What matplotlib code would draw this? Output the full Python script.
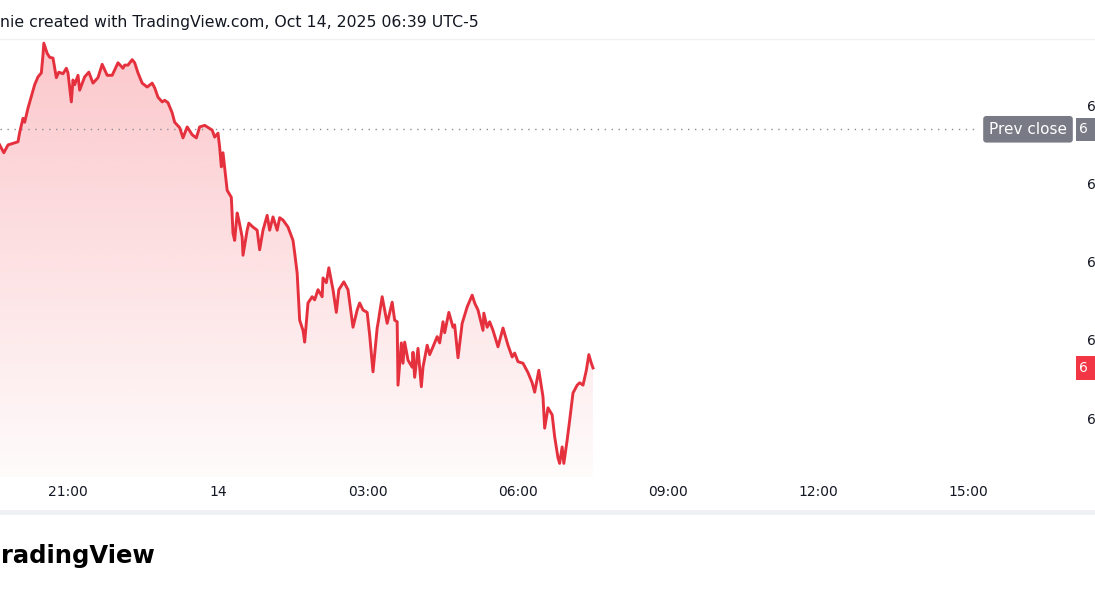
import numpy as np
import matplotlib
matplotlib.use("Agg")
import matplotlib.pyplot as plt
import matplotlib.transforms as mtransforms
from matplotlib.colors import to_rgb
from matplotlib.patches import Rectangle
from matplotlib.lines import Line2D

# ---------------- data (minutes relative to Oct 14 00:00, price) ----------------
minutes = [
    -262, -257, -252, -246, -240, -238, -234, -232, -228, -223, -220, -216, -212, -210, -209,
    -205, -202, -198, -194, -191, -186, -182, -180, -176, -174, -172, -168, -166, -160, -155,
    -150, -144, -139, -133, -127, -124, -120, -114, -112, -108, -103, -100, -96, -91, -85,
    -79, -76, -72, -67, -64, -60, -55, -52, -46, -42, -37, -31, -26, -22, -16,
    -7, -4, 0, 2, 4, 6, 11, 16, 18, 20, 23, 25, 29, 30, 35,
    37, 42, 47, 50, 54, 59, 62, 66, 71, 74, 78, 84, 90, 92, 95,
    98, 102, 104, 108, 113, 116, 120, 125, 126, 130, 133, 138, 142, 145, 151,
    156, 162, 167, 170, 174, 179, 182, 186, 191, 192, 197, 203, 209, 212, 215,
    216, 220, 222, 224, 228, 233, 234, 236, 240, 244, 246, 251, 254, 258, 263,
    266, 270, 272, 277, 282, 284, 288, 293, 299, 305, 308, 312, 318, 319, 323,
    326, 330, 336, 342, 348, 353, 356, 360, 366, 372, 377, 380, 385, 390, 392,
    396, 401, 404, 408, 410, 413, 415, 419, 422, 426, 431, 434, 438, 442, 445,
    448, 450,
]
prices = [
    6694.9, 6693.9, 6694.9, 6695.1, 6695.3, 6696.5, 6698.3, 6697.8, 6699.6, 6701.5, 6702.6, 6703.6, 6704.1, 6706.4, 6707.9,
    6706.6, 6706.1, 6706.0, 6703.5, 6704.2, 6704.0, 6704.7, 6704.1, 6700.4, 6703.2, 6702.6, 6703.8, 6701.9, 6703.6, 6704.2,
    6702.8, 6703.5, 6705.2, 6703.8, 6703.8, 6704.5, 6705.4, 6704.7, 6705.1, 6705.1, 6705.8, 6705.4, 6704.1, 6702.8, 6702.3,
    6702.8, 6702.2, 6701.0, 6700.4, 6700.6, 6700.3, 6699.0, 6697.8, 6697.1, 6695.8, 6697.2, 6696.2, 6695.8, 6697.2, 6697.4,
    6696.8, 6695.9, 6696.4, 6694.6, 6692.1, 6693.9, 6689.1, 6688.2, 6683.6, 6682.7, 6686.2, 6685.3, 6683.1, 6680.8, 6684.0,
    6684.9, 6684.4, 6684.0, 6681.5, 6684.0, 6685.9, 6684.0, 6685.7, 6684.0, 6685.6, 6685.3, 6684.4, 6682.7, 6681.1, 6678.5,
    6672.5, 6671.2, 6669.7, 6674.7, 6675.5, 6675.1, 6676.4, 6675.5, 6677.9, 6677.3, 6679.2, 6676.4, 6673.5, 6676.4, 6677.4,
    6676.4, 6671.6, 6673.8, 6674.7, 6673.8, 6673.5, 6670.6, 6665.9, 6671.5, 6672.1, 6675.5, 6672.1, 6674.8, 6672.5, 6672.3,
    6664.2, 6669.6, 6667.0, 6669.7, 6667.4, 6666.5, 6668.4, 6665.2, 6668.9, 6664.0, 6666.5, 6669.3, 6668.1, 6669.1, 6670.4,
    6669.6, 6672.3, 6670.9, 6673.5, 6671.6, 6671.9, 6667.7, 6672.1, 6674.2, 6675.7, 6674.7, 6673.8, 6671.2, 6673.4, 6671.6,
    6672.3, 6671.2, 6669.1, 6671.5, 6669.3, 6667.8, 6668.3, 6667.2, 6667.0, 6665.8, 6664.5, 6663.3, 6666.1, 6662.7, 6658.7,
    6661.3, 6660.4, 6657.6, 6654.9, 6654.2, 6656.3, 6654.2, 6657.2, 6659.7, 6663.2, 6664.2, 6664.5, 6664.2, 6666.1, 6668.1,
    6667.0, 6666.4,
]
prev_close = 6696.9
last_price = prices[-1]

xtick_minutes = [-180, 0, 180, 360, 540, 720, 900]
xtick_labels = ["21:00", "14", "03:00", "06:00", "09:00", "12:00", "15:00"]
ytick_values = [6700, 6690, 6680, 6670, 6660]
ytick_labels = ["6", "6", "6", "6", "6"]          # visible part of the cropped price scale
prev_close_label = "6"
last_price_label = "6"
title_text = "nie created with TradingView.com, Oct 14, 2025 06:39 UTC-5"
logo_text = "radingView"

# ---------------- layout ----------------
W, H = 1095, 600
fig = plt.figure(figsize=(W / 100, H / 100), dpi=100)
fig.patch.set_facecolor("white")


def fx(x):
    return x / W


def fy(y):
    return 1 - y / H


ax_right_px, ax_top_px, ax_bot_px = 1075, 40, 477
ax = fig.add_axes([0, fy(ax_bot_px), fx(ax_right_px), (ax_bot_px - ax_top_px) / H])
ax.patch.set_alpha(0)
xlim = (-261.6, 1028.4)
ylim = (6652.46, 6708.31)
ax.set_xlim(*xlim)
ax.set_ylim(*ylim)
for s in ax.spines.values():
    s.set_visible(False)

line_color = "#e5313e"
text_color = "#131722"
gray_label = "#787b86"

# gradient area under line
fill = ax.fill_between(minutes, prices, ylim[0], color="none", lw=0)
r, g, b = to_rgb("#f23645")
n = 256
grad = np.zeros((n, 1, 4))
grad[:, 0, 0] = r
grad[:, 0, 1] = g
grad[:, 0, 2] = b
grad[:, 0, 3] = np.linspace(0.28, 0.02, n)
im = ax.imshow(grad, extent=[xlim[0], xlim[1], ylim[0], ylim[1]], aspect="auto",
               origin="upper", zorder=1, interpolation="bilinear")
im.set_clip_path(fill.get_paths()[0], transform=ax.transData)
ax.set_xlim(*xlim)
ax.set_ylim(*ylim)

ax.plot(minutes, prices, color=line_color, lw=2.1, zorder=3, solid_joinstyle="round")

# prev close dotted line
ax.axhline(prev_close, xmin=0, xmax=977 / ax_right_px, color="#8a8d96", lw=1.0,
           ls=(0, (1, 4)), zorder=2)

# ticks
ax.set_xticks(xtick_minutes, xtick_labels)
ax.tick_params(axis="x", length=0, pad=6, labelsize=10, labelcolor=text_color)
ax.yaxis.tick_right()
ax.set_yticks(ytick_values, ytick_labels)
ax.tick_params(axis="y", length=0, pad=9, labelsize=10, labelcolor=text_color)

trans = mtransforms.blended_transform_factory(ax.transAxes, ax.transData)
ax.text(1067 / ax_right_px, prev_close, "Prev close", transform=trans, ha="right", va="center",
        color="white", fontsize=11,
        bbox=dict(boxstyle="round,pad=0.38,rounding_size=0.2", fc=gray_label, ec="none"),
        clip_on=False, zorder=5)

# value boxes on the (cropped) price scale
for val, lab, col, h in [(prev_close, prev_close_label, gray_label, 1.45),
                         (last_price, last_price_label, "#f23645", 1.55)]:
    ax.add_patch(Rectangle((1076 / ax_right_px, val - h), 0.05, 2 * h, transform=trans,
                           fc=col, ec="none", clip_on=False, zorder=4))
    ax.text(1079 / ax_right_px, val, lab, transform=trans, ha="left", va="center",
            color="white", fontsize=10, clip_on=False, zorder=5)

# header
fig.text(fx(0), fy(22), title_text, ha="left", va="center", fontsize=11.3, color=text_color)
fig.add_artist(Line2D([0, 1], [fy(39), fy(39)], transform=fig.transFigure, color="#f0f0f3", lw=1))

# footer band and logo
fig.add_artist(Rectangle((0, fy(515)), 1, 5 / H, transform=fig.transFigure,
                         fc="#f0f1f5", ec="none"))
fig.text(fx(1), fy(556), logo_text, ha="left", va="center", fontsize=17.5,
         fontweight="bold", color="#000000")

fig.savefig("out.png", dpi=100, facecolor="white")
